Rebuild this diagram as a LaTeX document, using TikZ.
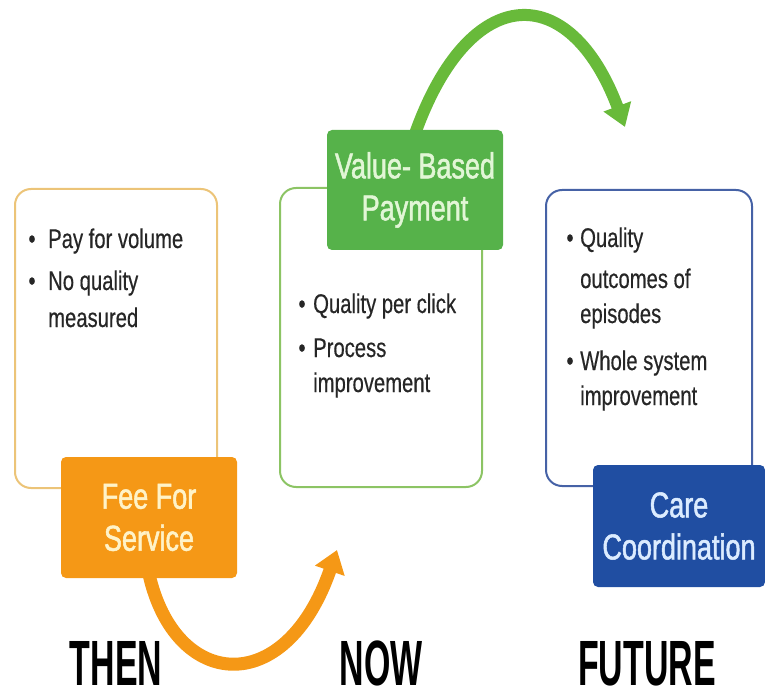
\documentclass[tikz,border=0pt]{standalone}
\usepackage{fontspec}
\setmainfont{Liberation Sans}
\newfontfamily\bulfont[FakeStretch=0.75,FakeBold=0.4]{Liberation Sans}
\newfontfamily\titfont[FakeStretch=0.75,FakeBold=1.4]{Liberation Sans}
\newfontfamily\labfont[FakeStretch=0.53]{Liberation Sans}
\usetikzlibrary{arrows.meta,calc}
\pgfdeclarelayer{bg}
\pgfsetlayers{bg,main}
\definecolor{orfill}{RGB}{245,152,22}
\definecolor{ortext}{RGB}{255,243,200}
\definecolor{orline}{RGB}{236,196,120}
\definecolor{grfill}{RGB}{86,178,74}
\definecolor{grtext}{RGB}{226,246,214}
\definecolor{grline}{RGB}{140,196,100}
\definecolor{grarrow}{RGB}{104,186,58}
\definecolor{blfill}{RGB}{32,78,162}
\definecolor{bltext}{RGB}{220,236,255}
\definecolor{blline}{RGB}{70,98,166}
\definecolor{bultext}{RGB}{38,38,38}
\tikzset{
  outbox/.style={draw, line width=2pt, rounded corners=16pt, fill=white, inner sep=0pt},
  titbox/.style={rounded corners=5pt, inner sep=0pt, align=center,
    font=\titfont\fontsize{36pt}{42pt}\selectfont},
  bul/.style={anchor=base west, inner sep=0pt, text=bultext,
    font=\bulfont\fontsize{27pt}{36pt}\selectfont},
  bdot/.style={anchor=base, inner sep=0pt, text=bultext,
    font=\bulfont\fontsize{27pt}{36pt}\selectfont},
  lab/.style={anchor=base, inner sep=0pt, text=black,
    font=\labfont\bfseries\fontsize{64pt}{70pt}\selectfont},
  flow/.style={line cap=butt}
}
\begin{document}
\begin{tikzpicture}[x=1pt,y=-1pt]
\useasboundingbox (0,0) rectangle (765,692);
% outline boxes
\node[outbox, draw=orline, minimum width=202pt, minimum height=299pt] (then) at (116,338.5) {};
\node[outbox, draw=grline, minimum width=202pt, minimum height=299pt] (now) at (381,337.5) {};
\node[outbox, draw=blline, minimum width=206pt, minimum height=296pt] (future) at (649,338) {};
% title boxes
\node[titbox, fill=orfill, text=ortext, minimum width=176pt, minimum height=121pt] (fee) at (149,517.5) {Fee For\\Service};
\node[titbox, fill=grfill, text=grtext, minimum width=176pt, minimum height=120pt] (vbp) at (415,190) {Value- Based\\Payment};
\node[titbox, fill=blfill, text=bltext, minimum width=172pt, minimum height=122pt] (care) at (679,526) {Care\\Coordination};
% bullets left
\node[bdot] (d1) at (32,248) {\textbullet};
\node[bul] (t1) at (48,248) {Pay for volume};
\node[bdot] (d2) at (32,290) {\textbullet};
\node[bul] (t2) at (48,290) {No quality};
\node[bul] (t3) at (48,327) {measured};
% bullets middle
\node[bdot] (d3) at (302,313) {\textbullet};
\node[bul] (t4) at (313,313) {Quality per click};
\node[bdot] (d4) at (302,357) {\textbullet};
\node[bul] (t5) at (313,357) {Process};
\node[bul] (t6) at (313,392) {improvement};
% bullets right
\node[bdot] (d5) at (570,247) {\textbullet};
\node[bul] (t7) at (580,247) {Quality};
\node[bul] (t8) at (580,288) {outcomes of};
\node[bul] (t9) at (580,323) {episodes};
\node[bdot] (d6) at (570,370) {\textbullet};
\node[bul] (t10) at (580,370) {Whole system};
\node[bul] (t11) at (580,405) {improvement};
% labels
\node[lab] (lthen) at (116,685) {THEN};
\node[lab] (lnow) at (381,685) {NOW};
\node[lab] (lfut) at (647,685) {FUTURE};
% arrows
\coordinate (otip) at (337,550);
\coordinate (gtip) at (625,127);
\begin{pgfonlayer}{bg}
\draw[flow, draw=orfill, line width=13pt, -{Triangle[width=30pt,length=22pt]}]
  ($(fee.south)+(0,-4)$) .. controls (175,690) and (285,700) .. (otip);
\draw[flow, draw=grarrow, line width=12pt, -{Triangle[width=28pt,length=22pt]}]
  ($(vbp.north)+(0,4)$) .. controls (470,-20) and (570,-20) .. (gtip);
\end{pgfonlayer}
\end{tikzpicture}
\end{document}
